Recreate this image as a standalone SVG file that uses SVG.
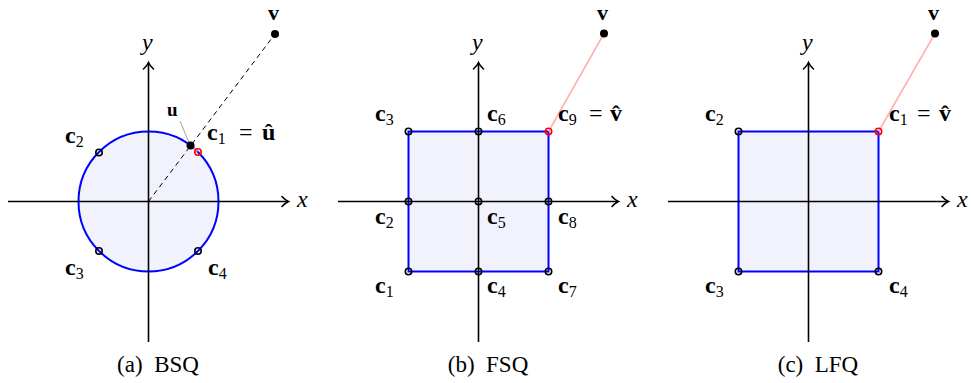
<svg xmlns="http://www.w3.org/2000/svg" width="971" height="383" viewBox="0 0 971 383">
<defs>
<marker id="arr" markerUnits="userSpaceOnUse" markerWidth="12" markerHeight="14" refX="9" refY="7" orient="auto">
<path d="M3,2 Q6,5.5 9.5,7 Q6,8.5 3,12" fill="none" stroke="#000" stroke-width="1.6" stroke-linecap="round"/>
</marker>
</defs>
<style>
.ax{stroke:#000;stroke-width:1.6;fill:none}
.reg{fill:#f2f2fd;stroke:#0000ff;stroke-width:2}
.pt{fill:none;stroke:#000;stroke-width:1.6}
.rpt{fill:none;stroke:#ff0000;stroke-width:1.6}
.dot{fill:#000}
.lab{font-family:"Liberation Serif","DejaVu Serif",serif;font-size:24px;font-weight:bold;fill:#000}
.sub{font-size:16px;font-weight:normal}
.eq{font-weight:normal}
.it{font-family:"Liberation Serif","DejaVu Serif",serif;font-size:24px;font-style:italic;fill:#000}
.cap{font-family:"Liberation Serif","DejaVu Serif",serif;font-size:23px;fill:#000;white-space:pre;text-anchor:middle}
.pink{stroke:#ffb0b0;stroke-width:1.6;fill:none}
.dash{stroke:#000;stroke-width:1;stroke-dasharray:5,4;fill:none}
</style>

<g id="panel-a">
<circle id="a-region" class="reg" cx="148.5" cy="201.5" r="70"/>
</g>
<g id="panel-b">
<rect id="b-region" class="reg" x="408.5" y="131.5" width="140" height="140"/>
</g>
<g id="panel-c">
<rect id="c-region" class="reg" x="738.5" y="131.5" width="140" height="140"/>
</g>

<g id="connectors">
<line class="ax" x1="8" y1="201.5" x2="288" y2="201.5" marker-end="url(#arr)"/>
<line class="ax" x1="148.5" y1="342" x2="148.5" y2="63" marker-end="url(#arr)"/>
<line class="dash" x1="148.5" y1="201.5" x2="275" y2="34"/>
<line x1="180" y1="121" x2="190" y2="145" stroke="#888" stroke-width="0.8"/>
<line class="pink" x1="190.5" y1="145.5" x2="197.5" y2="151.5" stroke-width="1"/>

<line class="ax" x1="338" y1="201.5" x2="618" y2="201.5" marker-end="url(#arr)"/>
<line class="ax" x1="478.5" y1="342" x2="478.5" y2="63" marker-end="url(#arr)"/>
<line class="pink" x1="548.5" y1="131.5" x2="604" y2="33.5"/>

<line class="ax" x1="668" y1="201.5" x2="948" y2="201.5" marker-end="url(#arr)"/>
<line class="ax" x1="808.5" y1="342" x2="808.5" y2="63" marker-end="url(#arr)"/>
<line class="pink" x1="878.5" y1="131.5" x2="935" y2="33.5"/>
</g>

<g id="a-v"><circle class="dot" cx="275" cy="34" r="4"/><text class="lab" x="268" y="20" style="font-size:22px">v</text></g>
<g id="a-u"><circle class="dot" cx="190.5" cy="145.5" r="4"/><text class="lab" x="167" y="116" style="font-size:19px">u</text></g>
<g id="a-c1"><circle class="rpt" cx="198" cy="152" r="3.2"/><text class="lab" x="207" y="140">c<tspan class="sub" dy="4">1</tspan><tspan class="eq" x="239" dy="-4">=</tspan><tspan x="262">û</tspan></text></g>
<g id="a-c2"><circle class="pt" cx="99" cy="152.5" r="3.2"/><text class="lab" x="65" y="143">c<tspan class="sub" dy="4">2</tspan></text></g>
<g id="a-c3"><circle class="pt" cx="99" cy="251" r="3.2"/><text class="lab" x="65" y="275">c<tspan class="sub" dy="4">3</tspan></text></g>
<g id="a-c4"><circle class="pt" cx="198" cy="251" r="3.2"/><text class="lab" x="208" y="275">c<tspan class="sub" dy="4">4</tspan></text></g>
<g id="a-axes-labels"><text class="it" x="297" y="207">x</text><text class="it" x="142" y="50">y</text></g>
<text class="cap" x="158" y="372">(a)  BSQ</text>

<g id="b-v"><circle class="dot" cx="604" cy="33.5" r="4"/><text class="lab" x="597" y="20" style="font-size:22px">v</text></g>
<g id="b-c1"><circle class="pt" cx="408.5" cy="271.5" r="3.2"/><text class="lab" x="375" y="293">c<tspan class="sub" dy="4">1</tspan></text></g>
<g id="b-c2"><circle class="pt" cx="408.5" cy="201.5" r="3.2"/><text class="lab" x="375" y="224">c<tspan class="sub" dy="4">2</tspan></text></g>
<g id="b-c3"><circle class="pt" cx="408.5" cy="131.5" r="3.2"/><text class="lab" x="375" y="121">c<tspan class="sub" dy="4">3</tspan></text></g>
<g id="b-c4"><circle class="pt" cx="478.5" cy="271.5" r="3.2"/><text class="lab" x="487" y="293">c<tspan class="sub" dy="4">4</tspan></text></g>
<g id="b-c5"><circle class="pt" cx="478.5" cy="201.5" r="3.2"/><text class="lab" x="487" y="224">c<tspan class="sub" dy="4">5</tspan></text></g>
<g id="b-c6"><circle class="pt" cx="478.5" cy="131.5" r="3.2"/><text class="lab" x="487" y="121">c<tspan class="sub" dy="4">6</tspan></text></g>
<g id="b-c7"><circle class="pt" cx="548.5" cy="271.5" r="3.2"/><text class="lab" x="558" y="293">c<tspan class="sub" dy="4">7</tspan></text></g>
<g id="b-c8"><circle class="pt" cx="548.5" cy="201.5" r="3.2"/><text class="lab" x="558" y="224">c<tspan class="sub" dy="4">8</tspan></text></g>
<g id="b-c9"><circle class="rpt" cx="548.5" cy="131.5" r="3.2"/><text class="lab" x="558" y="121">c<tspan class="sub" dy="4">9</tspan><tspan class="eq" x="589" dy="-4">=</tspan><tspan x="610">v̂</tspan></text></g>
<g id="b-axes-labels"><text class="it" x="627" y="207">x</text><text class="it" x="472" y="50">y</text></g>
<text class="cap" x="488" y="372">(b)  FSQ</text>

<g id="c-v"><circle class="dot" cx="935" cy="33.5" r="4"/><text class="lab" x="928" y="20" style="font-size:22px">v</text></g>
<g id="c-c1"><circle class="rpt" cx="878.5" cy="131.5" r="3.2"/><text class="lab" x="889" y="121">c<tspan class="sub" dy="4">1</tspan><tspan class="eq" x="917" dy="-4">=</tspan><tspan x="939">v̂</tspan></text></g>
<g id="c-c2"><circle class="pt" cx="738.5" cy="131.5" r="3.2"/><text class="lab" x="705" y="121">c<tspan class="sub" dy="4">2</tspan></text></g>
<g id="c-c3"><circle class="pt" cx="738.5" cy="271.5" r="3.2"/><text class="lab" x="705" y="293">c<tspan class="sub" dy="4">3</tspan></text></g>
<g id="c-c4"><circle class="pt" cx="878.5" cy="271.5" r="3.2"/><text class="lab" x="889" y="293">c<tspan class="sub" dy="4">4</tspan></text></g>
<g id="c-axes-labels"><text class="it" x="957" y="207">x</text><text class="it" x="802" y="50">y</text></g>
<text class="cap" x="818" y="372">(c)  LFQ</text>
</svg>
